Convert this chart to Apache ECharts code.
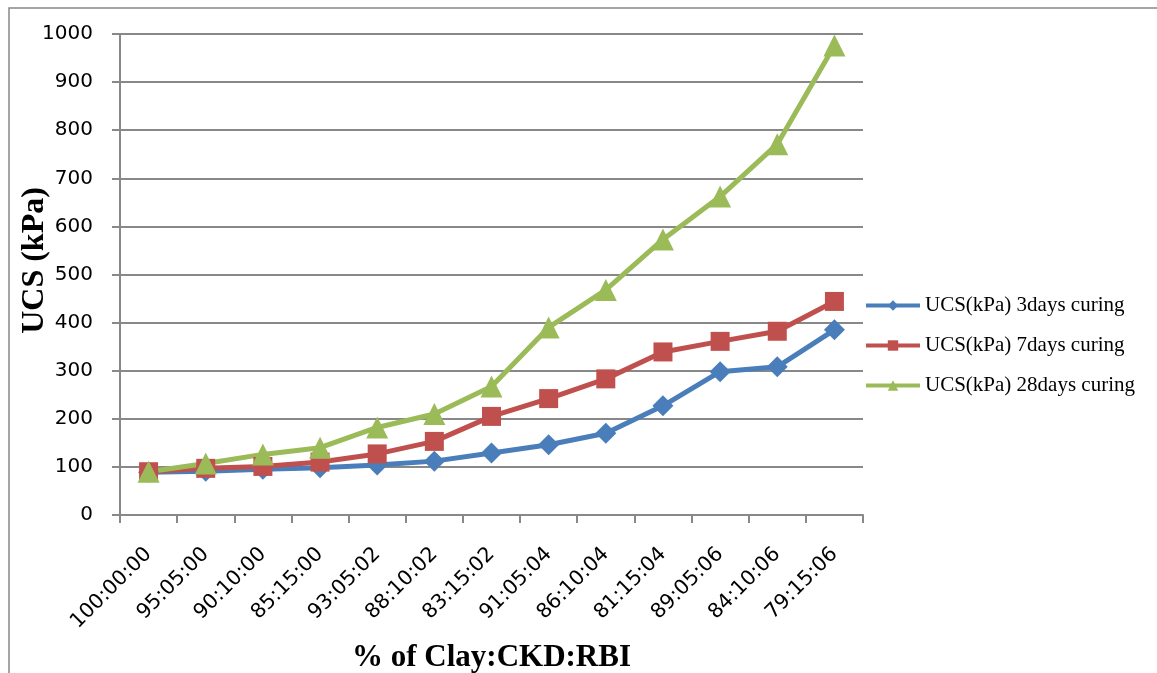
<!DOCTYPE html>
<html>
<head>
<meta charset="utf-8">
<script src="https://cdn.jsdelivr.net/npm/echarts@6/dist/echarts.min.js"></script>
<style>html,body{margin:0;padding:0;background:#fff}#chart{width:1157px;height:673px}</style>
</head>
<body>
<div id="chart"></div>
<script>
const categories = ["100:00:00","95:05:00","90:10:00","85:15:00","93:05:02","88:10:02","83:15:02","91:05:04","86:10:04","81:15:04","89:05:06","84:10:06","79:15:06"];
const ucs3days  = [89, 91, 95, 98, 104, 112, 129, 146, 170, 227, 298, 308, 385];
const ucs7days  = [90, 97, 101, 110, 127, 153, 205, 242, 283, 339, 361, 382, 444];
const ucs28days = [90, 107, 126, 140, 182, 210, 267, 390, 468, 573, 662, 771, 976];
const seriesNames = ["UCS(kPa) 3days curing","UCS(kPa) 7days curing","UCS(kPa) 28days curing"];

const chart = echarts.init(document.getElementById('chart'));
const labelFont = 'DejaVu Sans';
const serif = '"Liberation Serif", "Times New Roman", serif';
function mk(name, data, color, symbol, size) {
  return {
    name, type: 'line', data, symbol, symbolSize: size,
    lineStyle: { color, width: 5 },
    itemStyle: { color },
    emphasis: { disabled: true }
  };
}
chart.setOption({
  animation: false,
  graphic: [{
    type: 'rect', shape: { x: 9, y: 8, width: 1160, height: 680 },
    style: { fill: 'none', stroke: '#888', lineWidth: 1.5 }, silent: true
  }],
  grid: { left: 120, right: 294, top: 34, bottom: 158, containLabel: false, outerBoundsMode: 'none' },
  legend: {
    orient: 'vertical', left: 859, top: 290,
    itemWidth: 54, itemHeight: 13, itemGap: 19,
    lineStyle: { width: 4 },
    textStyle: { fontFamily: serif, fontSize: 21, color: '#000' },
    data: seriesNames
  },
  xAxis: {
    type: 'category', data: categories, boundaryGap: true,
    name: '% of Clay:CKD:RBI', nameLocation: 'middle', nameGap: 127, nameMoveOverlap: false,
    nameTextStyle: { fontFamily: serif, fontWeight: 'bold', fontSize: 31, color: '#000' },
    axisLine: { lineStyle: { color: '#888', width: 2 } },
    axisTick: { show: true, length: 8, lineStyle: { color: '#888', width: 2 } },
    axisLabel: { rotate: 45, interval: 0, fontFamily: labelFont, fontSize: 20.5, color: '#000', margin: 36 }
  },
  yAxis: {
    type: 'value', min: 0, max: 1000, interval: 100,
    name: 'UCS (kPa)', nameLocation: 'middle', nameGap: 69, nameMoveOverlap: false,
    nameTextStyle: { fontFamily: serif, fontWeight: 'bold', fontSize: 32, color: '#000', padding: [0, 0, 0, 28] },
    axisLine: { show: true, lineStyle: { color: '#888', width: 2 } },
    axisTick: { show: true, length: 8, lineStyle: { color: '#888', width: 2 } },
    axisLabel: { fontFamily: labelFont, fontSize: 20, color: '#000', margin: 27, formatter: v => String(v) },
    splitLine: { lineStyle: { color: '#888', width: 2 } }
  },
  series: [
    mk(seriesNames[0], ucs3days, '#4A7EBB', 'diamond', 21),
    mk(seriesNames[1], ucs7days, '#C0504D', 'rect', 19),
    mk(seriesNames[2], ucs28days, '#9BBB59', 'triangle', 22)
  ]
});
</script>
</body>
</html>
